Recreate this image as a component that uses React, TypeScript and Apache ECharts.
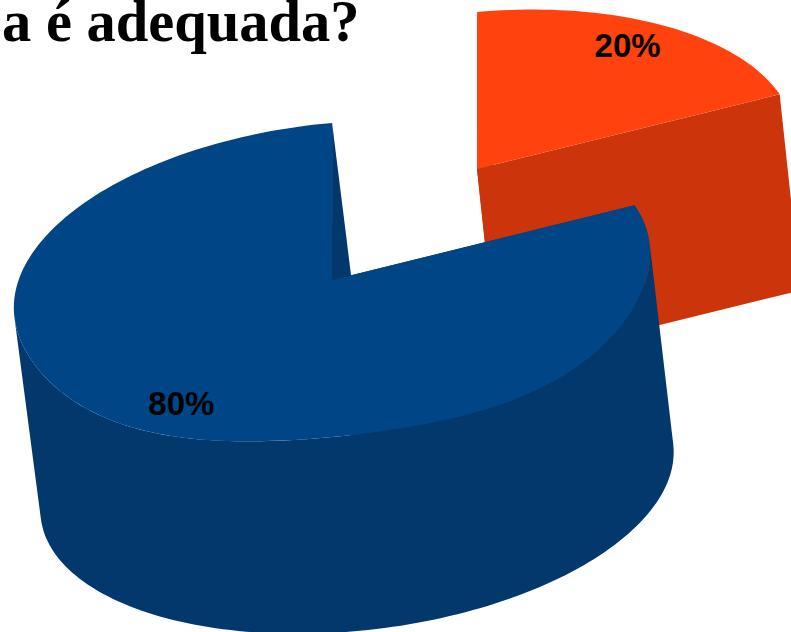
import React, { useEffect, useRef } from "react";
import * as echarts from "echarts";

const titleText = "a é adequada?";
const categories = ["Sim", "Não"];
const sliceValues = [20, 80];
const labelTexts = ["20%", "80%"];
const topColors = ["#ff420e", "#004586"];
const sideColors = ["#cc350b", "#02386c"];
const explodeFactors = [0.775, 0];
const wallOffsets = [
  [21, 196],
  [25, 201],
];

const D2R = Math.PI / 180;
const FIRST_ANGLE = -88;
const CX = 332;
const CY = 280;
const TOP_A = [318, -33];
const TOP_B = [11, 156];
const BASE_A = [316.5, -34];
const BASE_B = [11, 149];
const SIL_START = -1.5;
const SIL_END = 178.5;
const FRONT_BULGE = 8;

const total = sliceValues.reduce((s, v) => s + v, 0);

function ell(c: number[], a: number[], b: number[], deg: number, bulge = 0) {
  const t = deg * D2R;
  const s = Math.sin(t);
  const s2 = Math.sin(2 * t);
  return [
    c[0] + a[0] * Math.cos(t) + b[0] * s,
    c[1] + a[1] * Math.cos(t) + b[1] * s + (s > 0 ? bulge * s2 * s2 : 0),
  ];
}

function arc(c: number[], a: number[], b: number[], from: number, to: number, bulge = 0) {
  const n = Math.max(2, Math.ceil(Math.abs(to - from) / 1.5));
  const pts: number[][] = [];
  for (let i = 0; i <= n; i++) pts.push(ell(c, a, b, from + ((to - from) * i) / n, bulge));
  return pts;
}

function renderItem(params: any, api: any) {
  const i = params.dataIndex;
  const value = api.value(1);
  let before = 0;
  for (let j = 0; j < i; j++) before += sliceValues[j];
  const start = FIRST_ANGLE + (before / total) * 360;
  const end = start + (value / total) * 360;
  const mid = (start + end) / 2;
  const ex = explodeFactors[i];
  const mv = ell([0, 0], TOP_A, TOP_B, mid);
  const top = [CX + ex * mv[0], CY + ex * mv[1]];
  const off = wallOffsets[i];
  const base = [top[0] + off[0], top[1] + off[1]];
  const side = { fill: sideColors[i] };
  const face = { fill: topColors[i] };
  const children: any[] = [];
  const wall = (deg: number) => {
    const p = ell(top, TOP_A, TOP_B, deg);
    return {
      type: "polygon",
      shape: { points: [top, p, [p[0] + off[0], p[1] + off[1]], base] },
      style: side,
    };
  };
  children.push(wall(start), wall(end));
  const from = Math.max(start, SIL_START);
  const to = Math.min(end, SIL_END);
  if (to > from) {
    children.push({
      type: "polygon",
      shape: {
        points: arc(top, TOP_A, TOP_B, from, to, FRONT_BULGE).concat(
          arc(base, BASE_A, BASE_B, to, from)
        ),
      },
      style: side,
    });
  }
  children.push({
    type: "polygon",
    shape: { points: [top].concat(arc(top, TOP_A, TOP_B, start, end, FRONT_BULGE)) },
    style: face,
  });
  children.push({
    type: "text",
    x: top[0] + 0.805 * mv[0],
    y: top[1] + 0.865 * mv[1],
    style: {
      text: labelTexts[i],
      fill: "#000",
      font: 'bold 33px "Liberation Sans"',
      align: "center",
      verticalAlign: "middle",
    },
  });
  return { type: "group", children };
}

export default function App() {
  const ref = useRef<HTMLDivElement>(null);
  useEffect(() => {
    document.body.style.margin = "0";
    const chart = echarts.init(ref.current!, null, { renderer: "svg" });
    chart.setOption({
      animation: false,
      backgroundColor: "#fff",
      title: {
        text: titleText,
        left: 2,
        top: 0,
        padding: 0,
        textStyle: {
          fontFamily: "Liberation Serif",
          fontWeight: "bold",
          fontSize: 58.5,
          lineHeight: 42,
          color: "#000",
        },
      },
      series: [
        {
          type: "custom",
          coordinateSystem: "none",
          silent: true,
          renderItem,
          data: categories.map((name, i) => ({ name, value: [i, sliceValues[i]] })),
        },
      ],
    });
    return () => chart.dispose();
  }, []);
  return <div ref={ref} style={{ width: 791, height: 632, display: "block", overflow: "hidden" }} />;
}
